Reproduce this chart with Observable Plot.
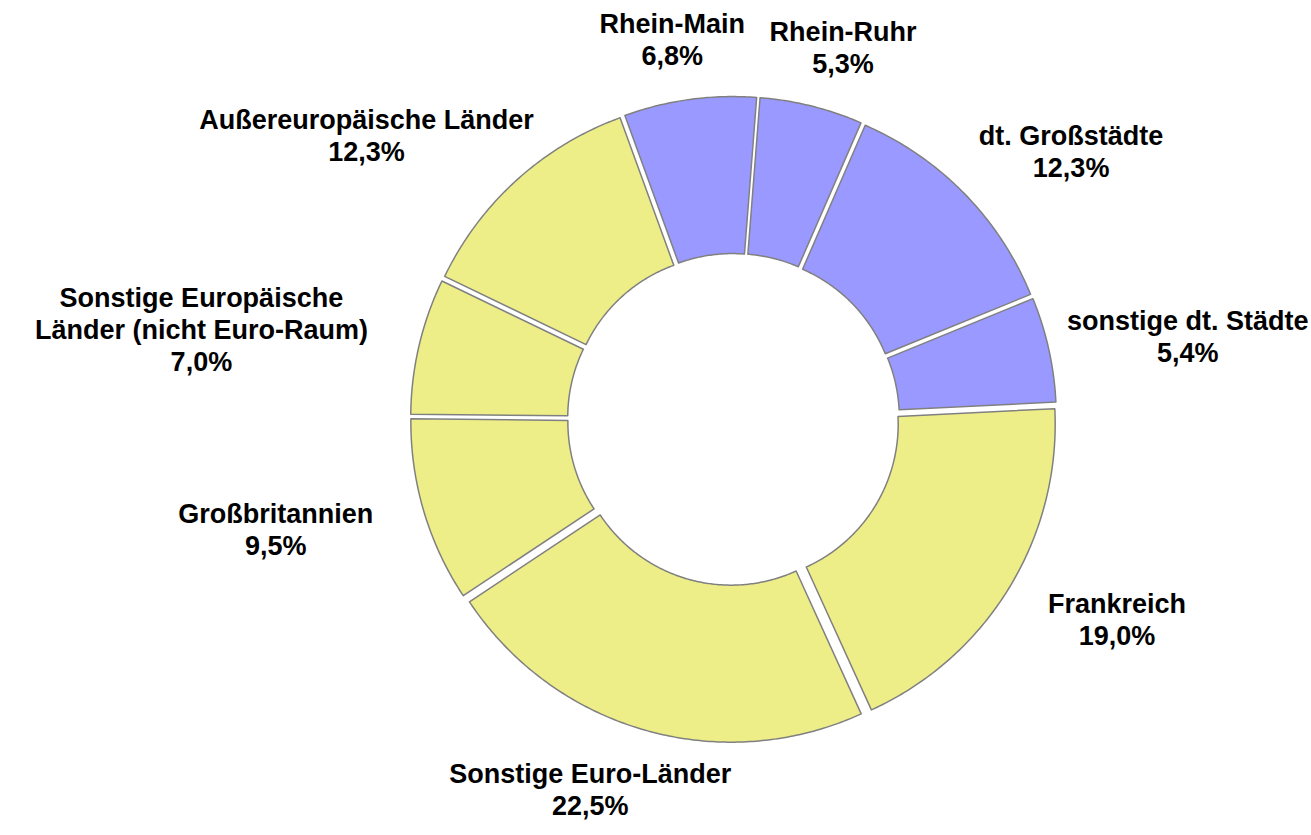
<!DOCTYPE html>
<html>
<head>
<meta charset="utf-8">
<script src="https://cdn.jsdelivr.net/npm/d3@7"></script>
<script src="https://cdn.jsdelivr.net/npm/@observablehq/plot@0.6"></script>
<style>
  html, body { margin: 0; padding: 0; background: #ffffff; }
  #chart svg { display: block; }
</style>
</head>
<body>
<div id="chart"></div>
<script>
// ---- data ----
const names = [
  "Rhein-Main",
  "Rhein-Ruhr",
  "dt. Großstädte",
  "sonstige dt. Städte",
  "Frankreich",
  "Sonstige Euro-Länder",
  "Großbritannien",
  "Sonstige Europäische\nLänder (nicht Euro-Raum)",
  "Außereuropäische Länder"
];
const shares = [6.8, 5.3, 12.3, 5.4, 19.0, 22.5, 9.5, 7.0, 12.3];
const regions = ["Deutschland", "Deutschland", "Deutschland", "Deutschland",
                 "Ausland", "Ausland", "Ausland", "Ausland", "Ausland"];

// ---- layout ----
const W = 1311, H = 835;
const CX = 733, CY = 419;          // centre of the donut in pixels
const R_OUT = 314, R_IN = 157, EXPLODE = 9;
const START = -20 * Math.PI / 180;
const FONT_SIZE = 27, LINE_H = 32;
const LABEL_RX = 380, LABEL_RY = 352;
const FONT_FAMILY = '"Liberation Sans", Arial, sans-serif';

const rows = names.map((name, i) => ({name, share: shares[i], region: regions[i]}));
const arcs = d3.pie().value(d => d.share).sort(null)
  .startAngle(START).endAngle(START + 2 * Math.PI)(rows);

// polygon outline of every slice (in pixel-unit data coordinates, y up)
const points = [];
for (const a of arcs) {
  const mid = (a.startAngle + a.endAngle) / 2;
  const ox = Math.sin(mid) * EXPLODE, oy = Math.cos(mid) * EXPLODE;
  const n = Math.max(8, Math.ceil((a.endAngle - a.startAngle) / 0.01));
  for (let k = 0; k <= n; k++) {
    const t = a.startAngle + (a.endAngle - a.startAngle) * k / n;
    points.push({name: a.data.name, region: a.data.region,
                 x: Math.sin(t) * R_OUT + ox, y: Math.cos(t) * R_OUT + oy});
  }
  for (let k = n; k >= 0; k--) {
    const t = a.startAngle + (a.endAngle - a.startAngle) * k / n;
    points.push({name: a.data.name, region: a.data.region,
                 x: Math.sin(t) * R_IN + ox, y: Math.cos(t) * R_IN + oy});
  }
}

// labels: placed outside the ring along the slice's mid angle, kept inside the frame
const ctx = document.createElement("canvas").getContext("2d");
ctx.font = `bold ${FONT_SIZE}px ${FONT_FAMILY}`;
const fmt = v => v.toFixed(1).replace(".", ",") + "%";
const labels = arcs.map(a => {
  const mid = (a.startAngle + a.endAngle) / 2;
  const text = a.data.name + "\n" + fmt(a.data.share);
  const lines = text.split("\n");
  const w = Math.max(...lines.map(l => ctx.measureText(l).width));
  const h = lines.length * LINE_H;
  const s = Math.sin(mid), c = Math.cos(mid);
  let x = s * LABEL_RX + s * w / 2;
  x = Math.min(x, W - CX - w / 2 - 3);
  x = Math.max(x, -CX + w / 2 + 3);
  return {text, x, y: c * LABEL_RY + c * h / 2};
});

const chart = Plot.plot({
  width: W,
  height: H,
  margin: 0,
  x: {domain: [-CX, W - CX], axis: null},
  y: {domain: [-(H - CY), CY], axis: null},
  color: {domain: ["Deutschland", "Ausland"], range: ["#9999FF", "#EEEE88"]},
  style: {background: "#ffffff"},
  marks: [
    Plot.line(points, {
      x: "x", y: "y", z: "name", fill: "region",
      stroke: "#808080", strokeWidth: 1.5, strokeLinejoin: "round",
      curve: "linear-closed"
    }),
    Plot.text(labels, {
      x: "x", y: "y", text: "text",
      fontSize: FONT_SIZE, fontWeight: "bold",
      fontFamily: FONT_FAMILY,
      lineHeight: LINE_H / FONT_SIZE,
      textAnchor: "middle", lineAnchor: "middle", fill: "#000000"
    })
  ]
});
document.getElementById("chart").appendChild(chart);
</script>
</body>
</html>
